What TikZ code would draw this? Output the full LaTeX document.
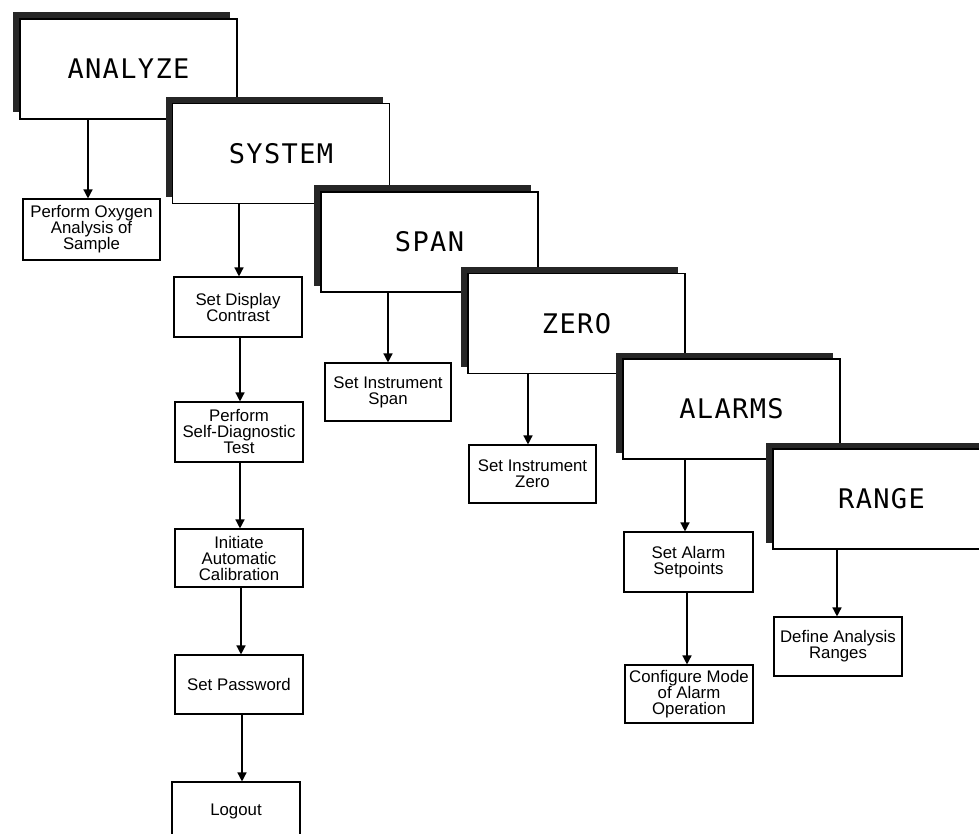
\documentclass[tikz,border=0pt]{standalone}
\usepackage{fontspec}
\setmainfont{Liberation Sans}
\newfontfamily\bigfont[LetterSpace=5]{DejaVu Sans Mono}
\usetikzlibrary{shadows,arrows.meta}
\begin{document}
\begin{tikzpicture}[x=1pt,y=-1pt,
  menubox/.style={draw=black, line width=1.1pt, fill=white,
    minimum width=217pt, minimum height=100pt, inner sep=0pt,
    font=\bigfont\fontsize{27}{27}\selectfont,
    general shadow={fill=black!85, shadow xshift=-7pt, shadow yshift=6.5pt}},
  taskbox/.style={draw=black, line width=1.1pt, fill=white,
    minimum width=128pt, minimum height=59pt, inner sep=0pt, align=center,
    font=\fontsize{16.8}{16}\selectfont},
  arr/.style={line width=1.4pt, -{Triangle[length=9pt,width=9pt]}}]
\useasboundingbox (0,0) rectangle (979,834);
\clip (0,0) rectangle (979,834);
\fill[white] (0,0) rectangle (979,834);

% menu boxes
\node[menubox] (analyze) at (128.5,69) {ANALYZE};
\node[menubox] (system) at (281,153.5) {SYSTEM};
\node[menubox] (span) at (429.5,242) {SPAN};
\node[menubox] (zero) at (576.5,323.5) {ZERO};
\node[menubox] (alarms) at (731.5,409) {ALARMS};
\node[menubox] (range) at (881.5,499) {RANGE};

% task boxes
\node[taskbox, minimum width=137pt, minimum height=61pt] (oxy) at (91.5,229.5) {Perform Oxygen\\Analysis of\\Sample};
\node[taskbox, minimum height=60pt] (disp) at (238,307) {Set Display\\Contrast};
\node[taskbox, minimum height=60pt] (diag) at (239,432) {Perform\\Self-Diagnostic\\Test};
\node[taskbox, minimum height=58pt] (calib) at (239,558) {Initiate\\Automatic\\Calibration};
\node[taskbox, minimum height=59pt] (pass) at (239,684.5) {Set Password};
\node[taskbox, minimum height=58pt] (logout) at (236,811) {Logout};
\node[taskbox, minimum width=126pt, minimum height=58pt] (spanset) at (388,392) {Set Instrument\\Span};
\node[taskbox, minimum width=127pt, minimum height=58pt] (zeroset) at (532.5,474) {Set Instrument\\Zero};
\node[taskbox, minimum width=129pt, minimum height=60pt] (setp) at (688.5,562) {Set Alarm\\Setpoints};
\node[taskbox, minimum width=128pt, minimum height=58pt] (config) at (689,694) {Configure Mode\\of Alarm\\Operation};
\node[taskbox, minimum width=128pt, minimum height=59pt] (ranges) at (838,646.5) {Define Analysis\\Ranges};

% connectors
\draw[arr] (analyze.south -| 88,0) -- (oxy.north -| 88,0);
\draw[arr] (system.south -| 239,0) -- (disp.north -| 239,0);
\draw[arr] (disp.south -| 240,0) -- (diag.north -| 240,0);
\draw[arr] (diag.south -| 240,0) -- (calib.north -| 240,0);
\draw[arr] (calib.south -| 241,0) -- (pass.north -| 241,0);
\draw[arr] (pass.south -| 242,0) -- (logout.north -| 242,0);
\draw[arr] (span.south -| spanset.north) -- (spanset.north);
\draw[arr] (zero.south -| 528,0) -- (zeroset.north -| 528,0);
\draw[arr] (alarms.south -| 685,0) -- (setp.north -| 685,0);
\draw[arr] (setp.south -| 687,0) -- (config.north -| 687,0);
\draw[arr] (range.south -| 837,0) -- (ranges.north -| 837,0);
\end{tikzpicture}
\end{document}
